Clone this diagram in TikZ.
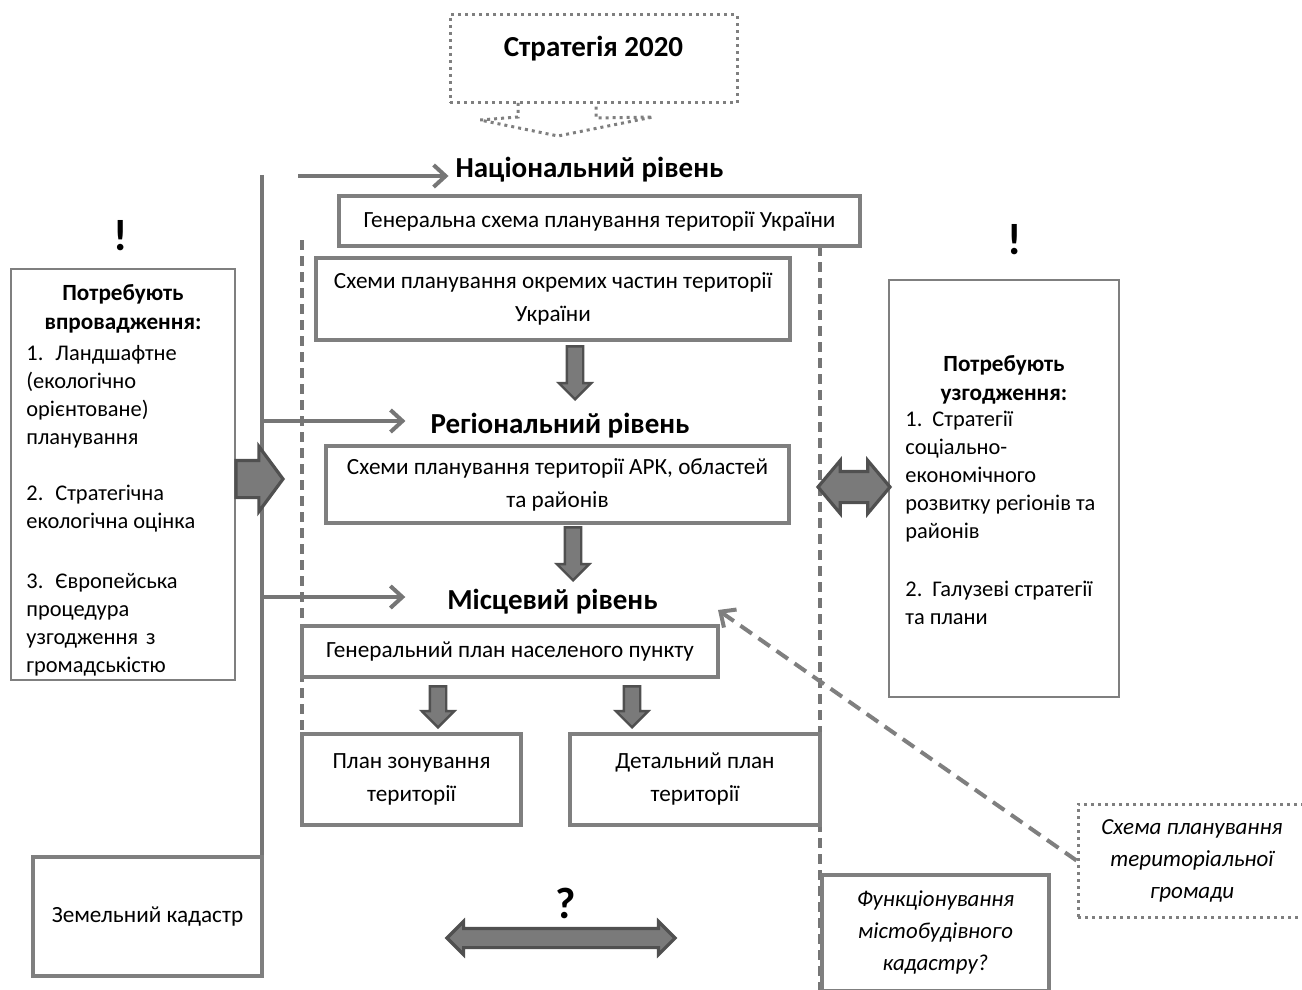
\documentclass[tikz,border=0pt]{standalone}
\usepackage{fontspec}
\setmainfont{Carlito}
\usetikzlibrary{arrows.meta,shapes.arrows,calc}
\definecolor{boxgray}{HTML}{7F7F7F}
\definecolor{linegray}{HTML}{767676}
\definecolor{arrfill}{HTML}{7A7A7A}
\definecolor{arrdraw}{HTML}{505050}

\begin{document}
\begin{tikzpicture}
	[x=0.5pt,y=-0.5pt,
	every node/.style={font=\fontsize{11.6}{16.5}\selectfont},
	box/.style={draw=boxgray,line width=2pt,inner sep=0pt,align=center},
	sidebox/.style={draw=boxgray,line width=1pt,inner sep=0pt},
	sidehead/.style={inner sep=0pt,align=center,font=\fontsize{11.6}{14.5}\selectfont\bfseries},
	sidelist/.style={inner sep=0pt,align=left,anchor=west,font=\fontsize{11.2}{14}\selectfont},
	dotbox/.style={draw=boxgray,line width=1.5pt,dash pattern=on 1.5pt off 2pt,inner sep=0pt,align=center},
	dotline/.style={draw=boxgray,line width=1.5pt,dash pattern=on 1.5pt off 2pt},
	level/.style={font=\fontsize{14.5}{17}\selectfont\bfseries},
	bigsign/.style={font=\fontsize{22}{26}\selectfont\bfseries},
	link/.style={draw=linegray,line width=2pt,-{Straight Barb[length=6pt,width=11pt]}},
	spine/.style={draw=linegray,line width=2pt},
	guide/.style={draw=linegray,line width=2pt,dash pattern=on 5pt off 3pt},
	pointer/.style={draw=boxgray,line width=2pt,dash pattern=on 7pt off 4pt,-{Straight Barb[length=6pt,width=11pt]}},
	downarrow/.style={single arrow,rotate=-90,anchor=tip,fill=arrfill,draw=arrdraw,line width=1.2pt,inner xsep=0pt,inner ysep=3.5pt,minimum height=26.5pt,minimum width=15pt,single arrow head extend=4pt},
	pushright/.style={single arrow,anchor=tip,fill=arrfill,draw=arrdraw,line width=1.6pt,inner xsep=0pt,inner ysep=8.5pt,minimum height=23.5pt,minimum width=31pt,single arrow head extend=7pt,single arrow tip angle=107},
	twoway/.style={double arrow,fill=arrfill,draw=arrdraw,line width=1.6pt,inner xsep=0pt,inner ysep=7pt,minimum height=36pt,minimum width=25pt,double arrow head extend=5.5pt,double arrow tip angle=100}]
	\useasboundingbox (0,0) rectangle (1302,990);

	\node[dotbox,minimum width=143.5pt,minimum height=44pt,text height=9pt,text depth=11.6pt,font=\fontsize{14.5}{17}\selectfont\bfseries] (stratBox) at (593.5,59) {Стратегія 2020};
	\draw[dotline] (518,103) -- (518,117) -- (480,120) -- (558,136) -- (653,117) -- (596,118) -- (596,103);

	\draw[guide] (302,240) -- (302,815);
	\draw[guide] (820,246) -- (820,990);
	\coordinate (spineTop) at (262,175);
	\coordinate (spineBot) at (262,975);
	\draw[spine] (spineTop) -- (spineBot);

	\node[level] (natTitle) at (589.5,170) {Національний рівень};
	\coordinate (natStart) at (298,176);
	\draw[link] (natStart) -- (natStart -| natTitle.west);
	\node[box,minimum width=260.5pt,minimum height=25pt] (genBox) at (599.5,221) {Генеральна схема планування території України};
	\node[box,minimum width=237pt,minimum height=41pt] (partsBox) at (553,299) {Схеми планування окремих частин території\\України};
	\node[downarrow] (arrA) at (575,401) {};

	\node[level] (regTitle) at (560,426) {Регіональний рівень};
	\coordinate (spineReg) at (262,421);
	\draw[link,shorten >=9pt] (spineReg) -- (spineReg -| regTitle.west);
	\node[box,minimum width=231.5pt,minimum height=38.5pt] (regBox) at (557.5,484.5) {Схеми планування території АРК, областей\\та районів};
	\node[downarrow] (arrB) at (573,582) {};

	\node[level] (locTitle) at (552.5,602) {Місцевий рівень};
	\coordinate (spineLoc) at (262,597);
	\draw[link,shorten >=17.5pt] (spineLoc) -- (spineLoc -| locTitle.west);
	\node[box,minimum width=208pt,minimum height=25.5pt] (cityBox) at (510,651.5) {Генеральний план населеного пункту};
	\node[downarrow,minimum height=20.5pt] (arrC) at (438,729) {};
	\node[downarrow,minimum height=20.5pt] (arrD) at (632,729) {};
	\node[box,minimum width=109.5pt,minimum height=45.5pt] (zoneBox) at (411.5,779.5) {План зонування\\території};
	\node[box,minimum width=125pt,minimum height=45.5pt] (detailBox) at (695,779.5) {Детальний план\\території};

	\node[bigsign] (needMark) at (121,236) {!};
	\node[sidebox,minimum width=112pt,minimum height=205.5pt] (needBox) at (123,474.5) {};
	\node[sidehead] (needHead) at (123,308.5) {Потребують\\впровадження:};
	\node[sidelist] (needList) at (26,511) {1.\hspace{6pt}Ландшафтне\\
		(екологічно\\
		орієнтоване)\\
		планування\\[14pt]
		2.\hspace{6pt}Стратегічна\\
		екологічна оцінка\\[16pt]
		3.\hspace{6pt}Європейська\\
		процедура\\
		узгодження\hspace{4pt}з\\
		громадськістю};
	\node[pushright] (arrNeed) at (285,479) {};

	\node[bigsign] (agreeMark) at (1015,240) {!};
	\node[sidebox,minimum width=115pt,minimum height=208.5pt] (agreeBox) at (1004,488.5) {};
	\node[sidehead] (agreeHead) at (1004,380) {Потребують\\узгодження:};
	\node[sidelist] (agreeList) at (905,517.5) {1.\hspace{5pt}Стратегії\\
		соціально-\\
		економічного\\
		розвитку регіонів та\\
		районів\\[15pt]
		2.\hspace{5pt}Галузеві стратегії\\
		та плани};
	\node[twoway] (arrAgree) at (854,487) {};

	\node[box,minimum width=114.5pt,minimum height=59.5pt] (landBox) at (147.5,916.5) {Земельний кадастр};
	\node[bigsign] (askMark) at (566,903) {?};
	\node[twoway,minimum height=114pt,minimum width=15pt,inner ysep=4pt,double arrow head extend=3.5pt,double arrow tip angle=90] (arrCad) at (561,938) {};
	\node[box,minimum width=113.5pt,minimum height=58pt,font=\fontsize{11.4}{16}\selectfont\itshape] (cadBox) at (935.5,933) {Функціонування\\містобудівного\\кадастру?};

	\node[dotbox,minimum width=114pt,minimum height=56.5pt,font=\fontsize{11.5}{16}\selectfont\itshape] (schemeBox) at (1192,860.5) {Схема планування\\територіальної\\громади};
	\coordinate (schemeTip) at (718,610);
	\draw[pointer] (schemeBox.west) -- (schemeTip);
\end{tikzpicture}
\end{document}
